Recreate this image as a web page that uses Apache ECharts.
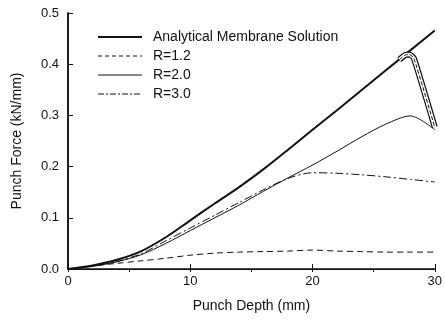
<!DOCTYPE html>
<html>
<head>
<meta charset="utf-8">
<script src="https://cdn.jsdelivr.net/npm/echarts@6/dist/echarts.min.js"></script>
<style>
  html, body { margin: 0; padding: 0; background: #fff; }
  #chart { width: 445px; height: 320px; }
</style>
</head>
<body>
<div id="chart"></div>
<script>
// punch depth (mm) sampled every 2 mm
const depth = [0, 2, 4, 6, 8, 10, 12, 14, 16, 18, 20, 22, 24, 26, 28, 30]
const analytical = [0, 0.007, 0.018, 0.035, 0.062, 0.095, 0.128, 0.16, 0.195, 0.233, 0.272, 0.31, 0.349, 0.388, 0.427, 0.466]
const r12 = [0, 0.006, 0.011, 0.016, 0.021, 0.027, 0.031, 0.033, 0.034, 0.035, 0.037, 0.035, 0.034, 0.033, 0.033, 0.033]
const r20 = [0, 0.005, 0.014, 0.028, 0.05, 0.075, 0.1, 0.125, 0.152, 0.178, 0.203, 0.23, 0.258, 0.283, 0.299, 0.272]
const r30 = [0, 0.006, 0.015, 0.03, 0.055, 0.08, 0.105, 0.13, 0.155, 0.177, 0.188, 0.187, 0.184, 0.18, 0.175, 0.17]

// unloading branch at the top right
const dropDepth = [27.1, 27.6, 27.95, 28.3, 30]
const dropForce = [0.409, 0.418, 0.419, 0.411, 0.277]

const xTicks = ['0', '10', '20', '30']
const yTicks = ['0.0', '0.1', '0.2', '0.3', '0.4', '0.5']

const pairs = (xs, ys) => xs.map((x, i) => [x, ys[i]])

const font = 'Liberation Sans, Arial, sans-serif'
const ink = '#111'

const line = (name, data, width, type, extra) => Object.assign({
  name,
  type: 'line',
  data,
  symbol: 'none',
  smooth: 0.3,
  silent: true,
  itemStyle: { color: ink },
  lineStyle: { color: ink, width, type },
  z: 3
}, extra || {})

const legendItem = (name, width, type) => ({ name, lineStyle: { color: ink, width, type } })

const myChart = echarts.init(document.getElementById('chart'))

const option = {
  animation: false,
  backgroundColor: '#fff',
  grid: { left: 68, right: 10, top: 13, bottom: 51 },
  legend: {
    orient: 'vertical',
    left: 92,
    top: 25,
    itemWidth: 44,
    itemHeight: 14,
    itemGap: 5,
    selectedMode: false,
    data: [
      legendItem('Analytical Membrane Solution', 2, 'solid'),
      legendItem('R=1.2', 1, [4, 3]),
      legendItem('R=2.0', 1, 'solid'),
      legendItem('R=3.0', 1, [6, 2, 2, 2])
    ],
    itemStyle: { color: 'rgba(0,0,0,0)', borderWidth: 0 },
    textStyle: { color: ink, fontFamily: font, fontSize: 14, padding: [0, 0, 0, 6] }
  },
  xAxis: [{
    type: 'value',
    min: 0, max: 30, interval: 10,
    name: 'Punch Depth (mm)',
    nameLocation: 'middle',
    nameGap: 30,
    nameTextStyle: { color: ink, fontFamily: font, fontSize: 14 },
    axisLine: { lineStyle: { color: ink, width: 1.5 } },
    axisTick: { inside: true, length: 5, lineStyle: { color: ink } },
    axisLabel: {
      color: ink, fontFamily: font, fontSize: 13, margin: 6,
      formatter: (v) => xTicks[Math.round(v / 10)]
    },
    splitLine: { show: false }
  }, {
    type: 'value',
    position: 'top',
    min: 0, max: 30, interval: 5,
    axisLine: { lineStyle: { color: ink, width: 1.2 } },
    axisTick: { inside: true, length: 3, lineStyle: { color: ink } },
    axisLabel: { show: false },
    splitLine: { show: false }
  }],
  yAxis: [{
    type: 'value',
    min: 0, max: 0.5, interval: 0.1,
    name: 'Punch Force (kN/mm)',
    nameLocation: 'middle',
    nameGap: 44,
    nameTextStyle: { color: ink, fontFamily: font, fontSize: 14 },
    axisLine: { lineStyle: { color: ink, width: 1.5 } },
    axisTick: { inside: true, length: 5, lineStyle: { color: ink } },
    axisLabel: {
      color: ink, fontFamily: font, fontSize: 13, margin: 9,
      formatter: (v) => yTicks[Math.round(v * 10)]
    },
    splitLine: { show: false }
  }, {
    type: 'value',
    position: 'right',
    min: 0, max: 0.5, interval: 0.1,
    axisLine: { lineStyle: { color: ink, width: 1.5 } },
    axisTick: { show: false },
    axisLabel: { show: false },
    splitLine: { show: false }
  }],
  series: [
    line('Analytical Membrane Solution', pairs(depth, analytical), 2, 'solid', { z: 5 }),
    line('R=1.2', pairs(depth, r12), 1, [6, 4]),
    line('R=2.0', pairs(depth, r20), 1, 'solid'),
    line('R=3.0', pairs(depth, r30), 1, [8, 3, 2, 3]),
    // double-outlined unloading branch: black band, white core, dashed centre
    line('drop-outer', pairs(dropDepth, dropForce), 6, 'solid', { smooth: 0.15, z: 6 }),
    line('drop-core', pairs(dropDepth, dropForce), 3.6, 'solid', { smooth: 0.15, z: 7, lineStyle: { color: '#fff', width: 3.6 } }),
    line('drop-dash', pairs(dropDepth, dropForce), 1, [4, 2], { smooth: 0.15, z: 8 })
  ]
}

myChart.setOption(option)
myChart.resize()
</script>
</body>
</html>
